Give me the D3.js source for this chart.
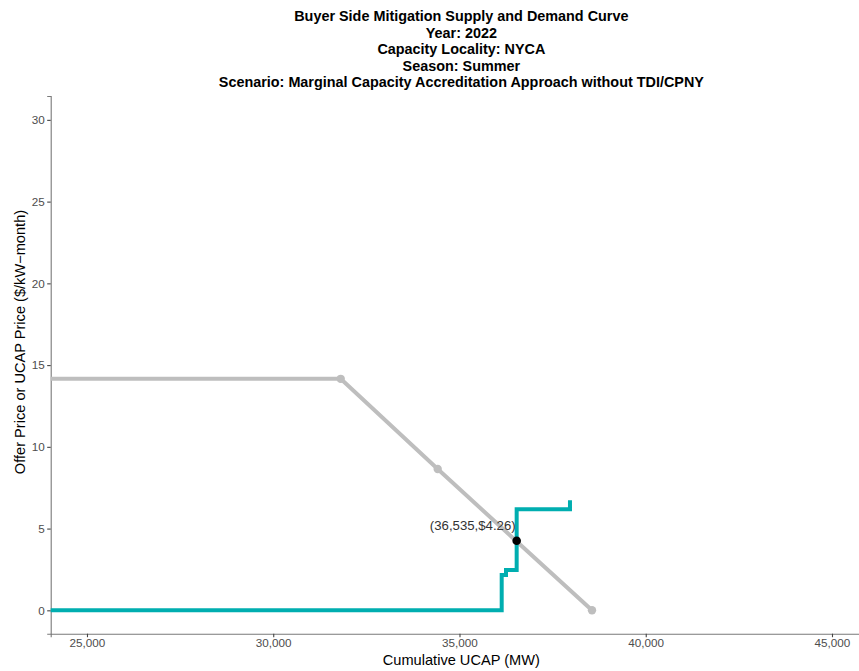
<!DOCTYPE html>
<html>
<head>
<meta charset="utf-8">
<script src="https://cdn.jsdelivr.net/npm/d3@7"></script>
<style>
  html, body { margin: 0; padding: 0; background: #fff; }
  svg { display: block; font-family: "Liberation Sans", Arial, sans-serif; }
</style>
</head>
<body>
<svg id="chart" width="859" height="671"></svg>
<script>
// ---- data ----
const titleLines = [
  "Buyer Side Mitigation Supply and Demand Curve",
  "Year: 2022",
  "Capacity Locality: NYCA",
  "Season: Summer",
  "Scenario: Marginal Capacity Accreditation Approach without TDI/CPNY"
];
const xTicks = [25000, 30000, 35000, 40000, 45000];
const yTicks = [0, 5, 10, 15, 20, 25, 30];

// Demand curve (grey)
const demandMW    = [23000, 31811, 34415, 38557];
const demandPrice = [14.16, 14.16, 8.64, 0];
const demandMarkers = [false, true, true, true];

// Supply curve (teal, step-after)
const supplyMW    = [23000, 36133, 36248, 36535, 37966];
const supplyPrice = [0, 2.16, 2.46, 6.18, 6.73];

// Clearing point
const clearMW = 36535;
const clearPrice = 4.26;

const xLabel = "Cumulative UCAP (MW)";
const yLabel = "Offer Price or UCAP Price ($/kW\u2212month)";

// ---- layout ----
const svg = d3.select("#chart");
const panel = { left: 50.7, right: 872, top: 96, bottom: 633.7 };

const x = d3.scaleLinear().domain([24026, 46074]).range([panel.left, panel.right]);
const y = d3.scaleLinear().domain([-1.43, 31.46]).range([panel.bottom, panel.top]);

svg.append("defs").append("clipPath").attr("id", "clip")
  .append("rect")
  .attr("x", panel.left).attr("y", panel.top)
  .attr("width", panel.right - panel.left).attr("height", panel.bottom - panel.top);

// Title
const title = svg.append("text")
  .attr("text-anchor", "middle")
  .attr("font-weight", "bold")
  .attr("font-size", 14.4)
  .attr("fill", "#000");
titleLines.forEach((t, i) => {
  title.append("tspan").attr("x", (panel.left + panel.right) / 2).attr("y", 21 + i * 16.5).text(t);
});

// Axes
const xAxis = svg.append("g")
  .attr("transform", `translate(0,${panel.bottom})`)
  .call(d3.axisBottom(x).tickValues(xTicks).tickFormat(d3.format(",")).tickSizeOuter(0).tickSize(3.5).tickPadding(2));
const yAxis = svg.append("g")
  .attr("transform", `translate(${panel.left},0)`)
  .call(d3.axisLeft(y).tickValues(yTicks).tickSizeOuter(0).tickSize(3.5).tickPadding(2.5));

[xAxis, yAxis].forEach(g => {
  g.select(".domain").attr("stroke", "#7a7a7a").attr("stroke-width", 1.1);
  g.selectAll(".tick line").attr("stroke", "#444").attr("stroke-width", 1.1);
  g.selectAll(".tick text").attr("fill", "#4d4d4d").attr("font-size", 11.7)
    .attr("font-family", "\"Liberation Sans\", Arial, sans-serif");
});

// Axis titles
svg.append("text")
  .attr("x", (panel.left + panel.right) / 2)
  .attr("y", 665)
  .attr("text-anchor", "middle")
  .attr("font-size", 14.6)
  .attr("fill", "#000")
  .text(xLabel);

svg.append("text")
  .attr("transform", `translate(25,342) rotate(-90)`)
  .attr("text-anchor", "middle")
  .attr("font-size", 14.6)
  .attr("fill", "#000")
  .text(yLabel);

const plot = svg.append("g").attr("clip-path", "url(#clip)");

// Demand line
const demand = demandMW.map((d, i) => ({ mw: d, p: demandPrice[i], m: demandMarkers[i] }));
plot.append("path")
  .datum(demand)
  .attr("fill", "none")
  .attr("stroke", "#bebebe")
  .attr("stroke-width", 4)
  .attr("d", d3.line().x(d => x(d.mw)).y(d => y(d.p)));
plot.selectAll("circle.dem")
  .data(demand.filter(d => d.m))
  .join("circle")
  .attr("class", "dem")
  .attr("cx", d => x(d.mw)).attr("cy", d => y(d.p))
  .attr("r", 4.2)
  .attr("fill", "#bebebe");

// Supply line
const supply = supplyMW.map((d, i) => ({ mw: d, p: supplyPrice[i] }));
plot.append("path")
  .datum(supply)
  .attr("fill", "none")
  .attr("stroke", "#00aeb0")
  .attr("stroke-width", 4)
  .attr("stroke-linejoin", "miter")
  .attr("d", d3.line().curve(d3.curveStepAfter).x(d => x(d.mw)).y(d => y(d.p)));

// Clearing point
plot.append("circle")
  .attr("cx", x(clearMW)).attr("cy", y(clearPrice))
  .attr("r", 4.3)
  .attr("fill", "#000");

svg.append("text")
  .attr("x", x(clearMW) - 1)
  .attr("y", y(clearPrice) - 11)
  .attr("text-anchor", "end")
  .attr("font-size", 13.2)
  .attr("fill", "#333")
  .text(`(${d3.format(",")(clearMW)},$${clearPrice.toFixed(2)})`);
</script>
</body>
</html>
